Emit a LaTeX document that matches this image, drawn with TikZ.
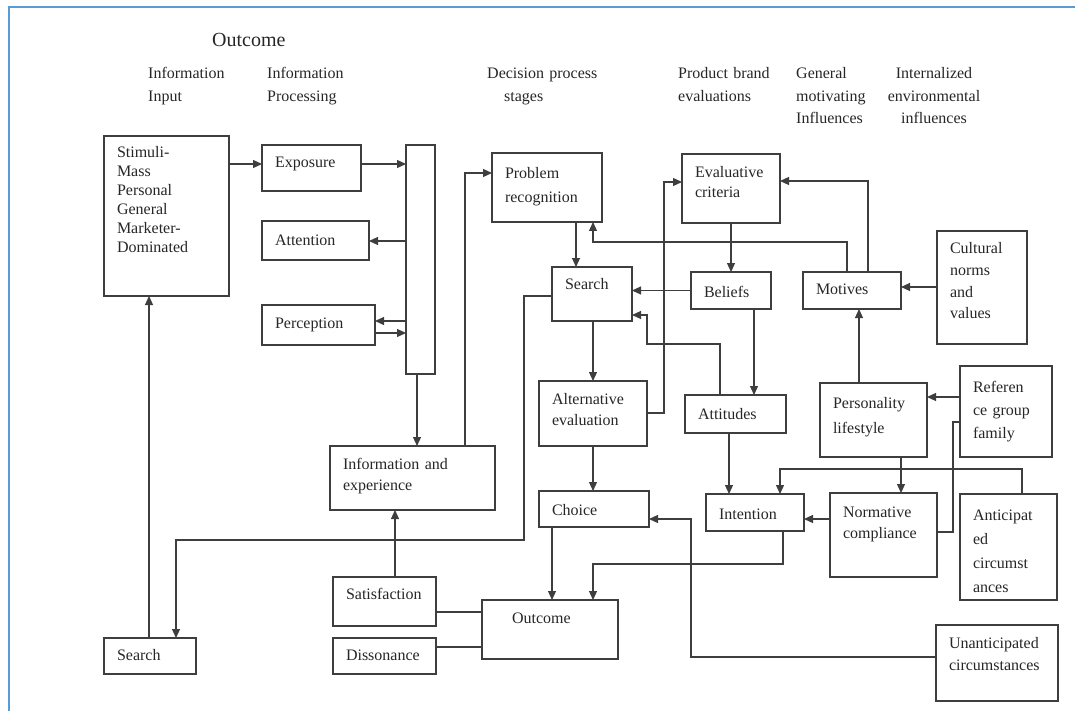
\documentclass[tikz,border=0pt]{standalone}
\usepackage{fontspec}
\setmainfont{Liberation Serif}
\usetikzlibrary{arrows.meta}
\definecolor{boxline}{RGB}{62,62,62}
\definecolor{boxtext}{RGB}{38,38,38}
\definecolor{frameblue}{RGB}{91,155,213}

\begin{document}
\begin{tikzpicture}[x=1pt, y=-1pt,
    box/.style={draw=boxline, line width=1.3pt, anchor=north west, align=left,
      inner xsep=13pt, inner ysep=0pt, outer sep=0pt, text=boxtext,
      font=\fontsize{16}{21}\selectfont},
    head/.style={anchor=base west, align=left, inner sep=0pt, text=boxtext,
      text width=120pt, font=\fontsize{16}{22.5}\selectfont},
    link/.style={draw=boxline, line width=1.2pt},
    arr/.style={link, -{Triangle[length=9pt,width=8pt]}},
    frameline/.style={draw=frameblue, line width=2pt}]
                \useasboundingbox (0,0) rectangle (1075,711);%

                % Drawing frame
                \draw [frameline] (9,711) -- (9,7) -- (1075,7);%

                % Marking column heads
                \node [head, font=\fontsize{20}{24}\selectfont] (hdtitle) at (212,47) {Outcome};%
                \node [head] (hdinput) at (148,79) {Information\\Input};%
                \node [head] (hdproc) at (267,79) {Information\\Processing};%
                \node [head] (hdstages) at (487,79) {Decision process\\\hspace*{17pt}stages};%
                \node [head] (hdbrand) at (678,79) {Product brand\\evaluations};%
                \node [head] (hdmotiv) at (796,79) {General\\motivating\\Influences};%
                \node [head, anchor=base, align=center, text width=110pt] (hdenv) at (934,79) {Internalized\\environmental\\influences};%

                % Drawing boxes of information input and processing
                \node [box, text width=99pt, text height=22pt, text depth=138pt, font=\fontsize{16}{19}\selectfont] (stimuli) at (104,136) {Stimuli-\\Mass\\Personal\\General\\Marketer-\\Dominated};%
                \node [box, text width=73pt, text height=23pt, text depth=23pt] (exposure) at (262,145) {Exposure};%
                \node [box, text width=81pt, text height=24pt, text depth=15pt] (attention) at (262,221) {Attention};%
                \node [box, text width=87pt, text height=23pt, text depth=17pt] (perception) at (262,305) {Perception};%
                \node [box, minimum width=29pt, minimum height=229pt, inner xsep=0pt] (bar) at (406,145) {};%
                \node [box, text width=139pt, text height=23pt, text depth=41pt] (infoexp) at (330,446) {Information and\\experience};%
                \node [box, text width=66pt, text height=22pt, text depth=14pt] (searchlow) at (104,638) {Search};%
                \node [box, text width=77pt, text height=22pt, text depth=27pt] (satisfaction) at (333,577) {Satisfaction};%
                \node [box, text width=77pt, text height=22pt, text depth=14pt] (dissonance) at (333,638) {Dissonance};%

                % Drawing boxes of decision process stages
                \node [box, text width=84pt, text height=26pt, text depth=43pt, font=\fontsize{16}{24}\selectfont] (probrec) at (492,153) {Problem\\recognition};%
                \node [box, text width=54pt, text height=22pt, text depth=32pt] (search) at (552,267) {Search};%
                \node [box, text width=82pt, text height=23pt, text depth=42pt] (alteval) at (539,381) {Alternative\\evaluation};%
                \node [box, text width=84pt, text height=24pt, text depth=12pt] (choice) at (539,491) {Choice};%
                \node [box, text width=76pt, inner xsep=30pt, text height=23pt, text depth=36pt] (outcome) at (482,600) {Outcome};%

                % Drawing boxes of brand evaluations
                \node [box, text width=72pt, text height=24pt, text depth=45pt, font=\fontsize{16}{20}\selectfont] (evalcrit) at (682,154) {Evaluative\\criteria};%
                \node [box, text width=54pt, text height=25pt, text depth=12pt] (beliefs) at (691,272) {Beliefs};%
                \node [box, text width=75pt, text height=24pt, text depth=14pt] (attitudes) at (685,395) {Attitudes};%
                \node [box, text width=72pt, text height=25pt, text depth=12pt] (intention) at (706,494) {Intention};%

                % Drawing boxes of motivating influences
                \node [box, text width=72pt, text height=22pt, text depth=15pt] (motives) at (803,272) {Motives};%
                \node [box, text width=81pt, text height=25pt, text depth=49pt, font=\fontsize{16}{25}\selectfont] (personality) at (820,383) {Personality\\lifestyle};%
                \node [box, text width=81pt, text height=24pt, text depth=60pt] (normative) at (830,493) {Normative\\compliance};%

                % Drawing boxes of environmental influences
                \node [box, text width=64pt, text height=22pt, text depth=91pt, font=\fontsize{16}{22}\selectfont] (culture) at (937,231) {Cultural\\norms\\and\\values};%
                \node [box, text width=66pt, text height=26pt, text depth=65pt, font=\fontsize{16}{23}\selectfont] (reference) at (960,366) {Referen\\ce group\\family};%
                \node [box, text width=71pt, text height=26pt, text depth=80pt, font=\fontsize{16}{24}\selectfont] (anticipated) at (960,494) {Anticipat\\ed\\circumst\\ances};%
                \node [box, text width=96pt, text height=23pt, text depth=53pt, font=\fontsize{16}{22}\selectfont] (unanticipated) at (936,625) {Unanticipated\\circumstances};%

                % Drawing arrows of information processing
                \draw [arr] (stimuli.east |- 0,164) -- (exposure.west |- 0,164);%
                \draw [arr] (exposure.east |- 0,164) -- (bar.west |- 0,164);%
                \draw [arr] (bar.west |- 0,241) -- (attention.east |- 0,241);%
                \draw [arr] (bar.west |- 0,321) -- (perception.east |- 0,321);%
                \draw [arr] (perception.east |- 0,333) -- (bar.west |- 0,333);%
                \draw [arr] (417,0 |- bar.south) -- (417,0 |- infoexp.north);%
                \draw [arr] (465,0 |- infoexp.north) |- (probrec.west |- 0,173);%
                \draw [arr] (395,0 |- satisfaction.north) -- (395,0 |- infoexp.south);%
                \draw [arr] (149,0 |- searchlow.north) -- (149,0 |- stimuli.south);%

                % Drawing arrows of decision process
                \draw [arr] (576,0 |- probrec.south) -- (576,0 |- search.north);%
                \draw [arr] (593,0 |- search.south) -- (593,0 |- alteval.north);%
                \draw [arr] (593,0 |- alteval.south) -- (593,0 |- choice.north);%
                \draw [arr] (552,0 |- choice.south) -- (552,0 |- outcome.north);%
                \draw [arr] (search.west |- 0,296) -| (524,540) -| (176,0 |- searchlow.north);%
                \draw [arr] (alteval.east |- 0,413) -| (664,182) -- (evalcrit.west |- 0,182);%

                % Drawing arrows of brand evaluations
                \draw [arr] (evalcrit.south) -- (evalcrit.south |- beliefs.north);%
                \draw [arr] (beliefs.west) -- (search.east |- beliefs.west);%
                \draw [arr] (754,0 |- beliefs.south) -- (754,0 |- attitudes.north);%
                \draw [arr] (720,0 |- attitudes.north) |- (647,344) |- (search.east |- 0,315);%
                \draw [arr] (729,0 |- attitudes.south) -- (729,0 |- intention.north);%
                \draw [arr] (783,0 |- intention.south) |- (593,564) -- (593,0 |- outcome.north);%

                % Drawing arrows of influences
                \draw [arr] (868,0 |- motives.north) |- (evalcrit.east |- 0,181);%
                \draw [arr] (847,0 |- motives.north) |- (593,242) -- (593,0 |- probrec.south);%
                \draw [arr] (culture.west |- 0,287) -- (motives.east |- 0,287);%
                \draw [arr] (859,0 |- personality.north) -- (859,0 |- motives.south);%
                \draw [arr] (reference.west |- 0,397) -- (personality.east |- 0,397);%
                \draw [arr] (901,0 |- personality.south) -- (901,0 |- normative.north);%
                \draw [arr] (normative.west |- 0,519) -- (intention.east |- 0,519);%
                \draw [arr] (1022,0 |- anticipated.north) |- (780,469) -- (780,0 |- intention.north);%
                \draw [arr] (unanticipated.west |- 0,657) -| (691,519) -- (choice.east |- 0,519);%

                % Drawing plain lines
                \draw [link] (reference.west |- 0,422) -| (953,532) -- (normative.east |- 0,532);%
                \draw [link] (satisfaction.east |- 0,612) -- (outcome.west |- 0,612);%
                \draw [link] (dissonance.east |- 0,647) -- (outcome.west |- 0,647);%
\end{tikzpicture}
\end{document}
